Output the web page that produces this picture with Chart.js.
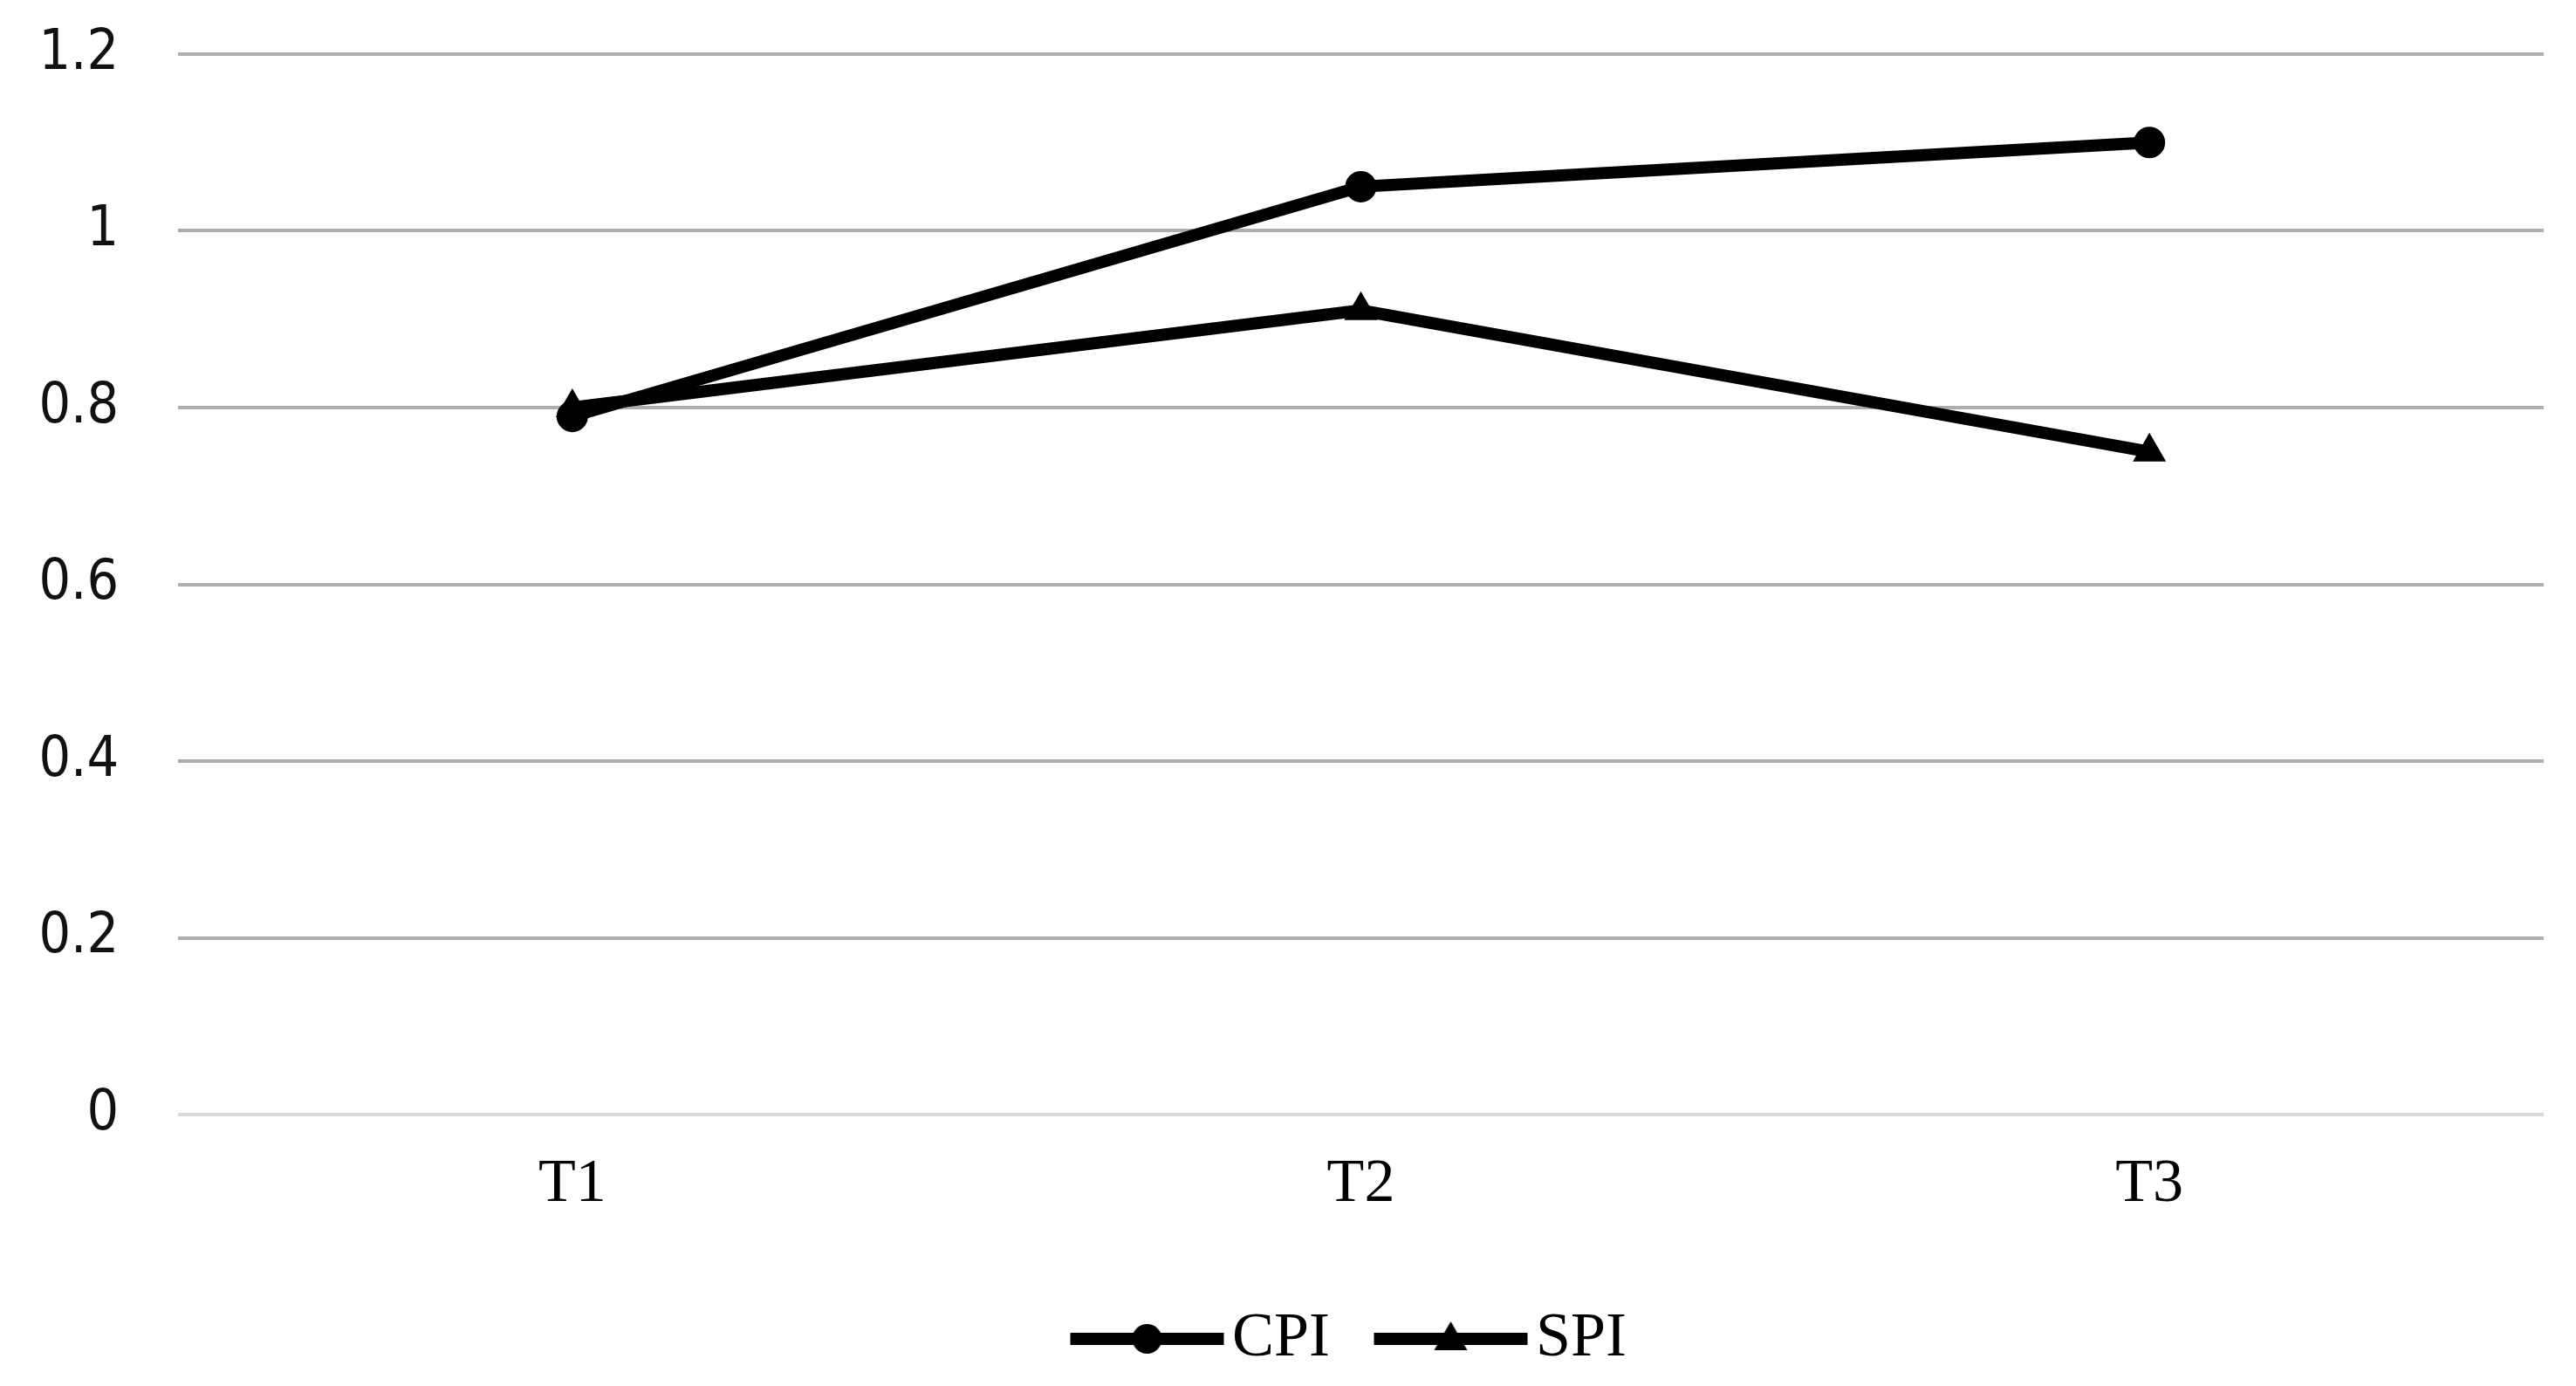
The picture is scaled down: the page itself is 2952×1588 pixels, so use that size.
<!DOCTYPE html>
<html>
<head>
<meta charset="utf-8">
<title>CPI / SPI</title>
<script src="https://cdn.jsdelivr.net/npm/chart.js@4.4.1/dist/chart.umd.min.js"></script>
<style>
  html, body { margin: 0; padding: 0; background: #fff; }
</style>
</head>
<body>
<canvas id="chart" width="2952" height="1588"></canvas>
<script>
// Data
const categories = ["T1", "T2", "T3"];
const cpiValues = [0.79, 1.05, 1.10];
const spiValues = [0.80, 0.91, 0.75];
const yTicks = [0, 0.2, 0.4, 0.6, 0.8, 1, 1.2];

// Legend icon: a short line with the marker in the middle
const makeLegendIcon = (style) => {
  const c = document.createElement("canvas");
  c.width = 190;
  c.height = 48;
  const g = c.getContext("2d");
  g.strokeStyle = "#000";
  g.fillStyle = "#000";
  g.lineWidth = 14;
  g.beginPath();
  g.moveTo(6, 24);
  g.lineTo(182, 24);
  g.stroke();
  const cx = 94, cy = 24;
  g.beginPath();
  if (style === "circle") {
    g.arc(cx, cy, 17, 0, Math.PI * 2);
  } else {
    g.moveTo(cx, cy - 20);
    g.lineTo(cx + 19, cy + 13);
    g.lineTo(cx - 19, cy + 13);
    g.closePath();
  }
  g.fill();
  return c;
};

const ctx = document.getElementById("chart").getContext("2d");

const chart = new Chart(ctx, {
  type: "line",
  data: {
    labels: categories,
    datasets: [
      {
        label: "CPI",
        data: cpiValues,
        borderColor: "#000",
        backgroundColor: "#000",
        borderWidth: 14,
        pointStyle: "circle",
        pointRadius: 18,
        pointBorderWidth: 0,
        tension: 0,
        legendIcon: makeLegendIcon("circle"),
      },
      {
        label: "SPI",
        data: spiValues,
        borderColor: "#000",
        backgroundColor: "#000",
        borderWidth: 14,
        pointStyle: "triangle",
        pointRadius: 22,
        pointBorderWidth: 0,
        tension: 0,
        legendIcon: makeLegendIcon("triangle"),
      },
    ],
  },
  options: {
    responsive: false,
    animation: false,
    devicePixelRatio: 1,
    layout: {
      padding: { top: 62, right: 37, bottom: 14, left: 0 },
    },
    scales: {
      x: {
        offset: true,
        grid: { display: false, drawTicks: false },
        border: { display: false },
        ticks: {
          color: "#000",
          padding: 39,
          font: { family: "'Liberation Serif', serif", size: 70 },
        },
        afterFit: (scale) => {
          scale.height = 142;
        },
      },
      y: {
        min: 0,
        max: 1.2,
        border: { display: false },
        grid: {
          drawTicks: true,
          tickLength: 68,
          tickColor: "rgba(0,0,0,0)",
          lineWidth: 4,
          color: (c) => (c.tick && c.tick.value === 0 ? "#d9d9d9" : "#b1adad"),
        },
        afterBuildTicks: (scale) => {
          scale.ticks = yTicks.map((v) => ({ value: v }));
        },
        ticks: {
          color: "#111",
          padding: 0,
          font: { family: "'DejaVu Sans Condensed', 'DejaVu Sans', sans-serif", size: 64 },
          callback: (value) => String(+value.toFixed(1)),
        },
        afterFit: (scale) => {
          scale.width = 204;
        },
      },
    },
    plugins: {
      tooltip: { enabled: false },
      legend: {
        position: "bottom",
        fullSize: false,
        maxHeight: 155,
        labels: {
          color: "#000",
          padding: 79,
          usePointStyle: true,
          pointStyleWidth: 121,
          font: { family: "'Liberation Serif', serif", size: 72 },
          generateLabels: (ch) =>
            ch.data.datasets.map((ds, i) => ({
              text: ds.label,
              pointStyle: ds.legendIcon,
              fillStyle: "#000",
              strokeStyle: "#000",
              lineWidth: 0,
              fontColor: "#000",
              hidden: false,
              datasetIndex: i,
            })),
        },
      },
    },
  },
});
</script>
</body>
</html>
